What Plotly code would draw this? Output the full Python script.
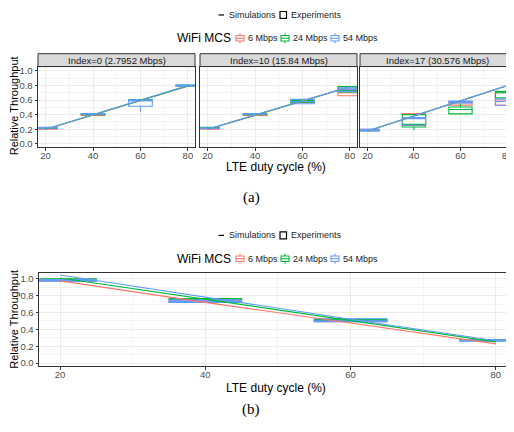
import plotly.graph_objects as go

# page body has an 8px default margin: draw in a 506x424 figure offset by 8px
OFF = 8
W, H = 506, 424
def X(px): return (px - OFF) / W
def Y(py): return 1 - (py - OFF) / H

duty = [20, 40, 60, 80]
mcs_names = ["6 Mbps", "24 Mbps", "54 Mbps"]
mcs_colors = ["#F8766D", "#00BA38", "#619CFF"]
facet_titles = ["Index=0 (2.7952 Mbps)", "Index=10 (15.84 Mbps)", "Index=17 (30.576 Mbps)"]

# (a) simulations, per facet, per MCS
sim_a = [
    [[0.195, 0.395, 0.595, 0.79], [0.198, 0.398, 0.598, 0.795], [0.20, 0.40, 0.60, 0.80]],
    [[0.195, 0.39, 0.585, 0.78], [0.198, 0.393, 0.588, 0.783], [0.20, 0.395, 0.59, 0.785]],
    [[0.172, 0.38, 0.585, 0.795], [0.174, 0.383, 0.588, 0.798], [0.175, 0.385, 0.59, 0.80]],
]
# (a) experiments box stats: [lowerfence, q1, median, q3, upperfence] per duty cycle
box_a = [
    [  # Index=0
        [[0.20, 0.20, 0.205, 0.21, 0.21], [0.39, 0.39, 0.395, 0.40, 0.40], [0.59, 0.59, 0.595, 0.60, 0.60], [0.79, 0.79, 0.795, 0.80, 0.80]],
        [[0.21, 0.21, 0.215, 0.22, 0.22], [0.40, 0.40, 0.405, 0.41, 0.41], [0.60, 0.60, 0.605, 0.607, 0.607], [0.795, 0.795, 0.80, 0.805, 0.805]],
        [[0.215, 0.215, 0.22, 0.225, 0.225], [0.405, 0.405, 0.41, 0.415, 0.415], [0.44, 0.515, 0.595, 0.605, 0.605], [0.795, 0.795, 0.80, 0.805, 0.805]],
    ],
    [  # Index=10
        [[0.20, 0.20, 0.205, 0.21, 0.21], [0.39, 0.39, 0.395, 0.40, 0.40], [0.57, 0.57, 0.58, 0.59, 0.59], [0.66, 0.66, 0.70, 0.75, 0.75]],
        [[0.215, 0.215, 0.22, 0.225, 0.225], [0.40, 0.40, 0.405, 0.41, 0.41], [0.57, 0.57, 0.585, 0.60, 0.60], [0.71, 0.71, 0.73, 0.785, 0.79]],
        [[0.21, 0.21, 0.215, 0.22, 0.22], [0.405, 0.405, 0.41, 0.415, 0.415], [0.55, 0.55, 0.58, 0.61, 0.61], [0.72, 0.72, 0.75, 0.77, 0.77]],
    ],
    [  # Index=17
        [[0.18, 0.18, 0.19, 0.20, 0.20], [0.25, 0.25, 0.35, 0.415, 0.415], [0.53, 0.53, 0.56, 0.58, 0.58], [0.48, 0.53, 0.60, 0.70, 0.72]],
        [[0.18, 0.18, 0.19, 0.195, 0.195], [0.19, 0.23, 0.266, 0.40, 0.40], [0.41, 0.41, 0.47, 0.505, 0.55], [0.63, 0.63, 0.70, 0.72, 0.73]],
        [[0.175, 0.175, 0.19, 0.20, 0.20], [0.25, 0.255, 0.345, 0.36, 0.37], [0.56, 0.56, 0.57, 0.585, 0.585], [0.52, 0.525, 0.58, 0.617, 0.617]],
    ],
]
# (b) simulations per MCS
sim_b = [[0.975, 0.72, 0.475, 0.228], [1.01, 0.757, 0.505, 0.252], [1.045, 0.78, 0.52, 0.265]]
# (b) experiments box stats
box_b = [
    [[0.97, 0.97, 0.98, 0.99, 0.99], [0.72, 0.72, 0.73, 0.74, 0.74], [0.49, 0.49, 0.50, 0.51, 0.51], [0.27, 0.27, 0.275, 0.28, 0.28]],
    [[0.995, 0.995, 1.0, 1.0, 1.0], [0.755, 0.755, 0.76, 0.765, 0.765], [0.51, 0.51, 0.515, 0.52, 0.52], [0.265, 0.265, 0.27, 0.275, 0.275]],
    [[0.97, 0.97, 0.98, 0.99, 0.99], [0.72, 0.72, 0.73, 0.75, 0.75], [0.49, 0.49, 0.50, 0.525, 0.525], [0.26, 0.26, 0.265, 0.275, 0.275]],
]
y_ticks = [0.0, 0.2, 0.4, 0.6, 0.8, 1.0]
y_tick_text = ["0.0", "0.2", "0.4", "0.6", "0.8", "1.0"]

FONT = "Liberation Sans, Arial, sans-serif"
TICKC = "#4D4D4D"
BORDER = "#333333"

fig = go.Figure()

def add_boxes(stats, ax):
    for k in range(3):
        s = stats[k]
        fig.add_trace(go.Box(
            x=duty, lowerfence=[v[0] for v in s], q1=[v[1] for v in s], median=[v[2] for v in s],
            q3=[v[3] for v in s], upperfence=[v[4] for v in s],
            width=10, whiskerwidth=0, boxpoints=False, fillcolor="rgba(255,255,255,0)",
            line=dict(color=mcs_colors[k], width=1.1), xaxis="x" + ax, yaxis="y" + ax,
            showlegend=False, hoverinfo="skip"))

def add_lines(sims, ax):
    for k in range(3):
        fig.add_trace(go.Scatter(x=duty, y=sims[k], mode="lines",
                                 line=dict(color=mcs_colors[k], width=1.1),
                                 xaxis="x" + ax, yaxis="y" + ax, showlegend=False, hoverinfo="skip"))

for i in range(3):
    ax = "" if i == 0 else str(i + 1)
    add_boxes(box_a[i], ax)
    add_lines(sim_a[i], ax)
add_boxes(box_b, "4")
add_lines(sim_b, "4")

def xax(domain, rng, anchor, mirror=True):
    return dict(domain=domain, range=rng, anchor=anchor, tickvals=duty, ticktext=[str(d) for d in duty],
                showgrid=True, gridcolor="#EBEBEB", gridwidth=1.1,
                minor=dict(tickvals=[30, 50, 70], showgrid=True, gridcolor="#F4F4F4", gridwidth=0.6, ticks=""),
                showline=True, linecolor=BORDER, linewidth=1, mirror=mirror,
                ticks="outside", ticklen=2.5, tickcolor=BORDER, tickwidth=1, ticklabelstandoff=-3,
                tickfont=dict(size=9.5, color=TICKC, family=FONT), zeroline=False, fixedrange=True)

def yax(domain, rng, anchor, labels=True, mirror=True):
    return dict(domain=domain, range=rng, anchor=anchor, tickvals=y_ticks, ticktext=y_tick_text,
                showticklabels=labels, showgrid=True, gridcolor="#EBEBEB", gridwidth=1.1,
                minor=dict(tickvals=[0.1, 0.3, 0.5, 0.7, 0.9], showgrid=True, gridcolor="#F4F4F4", gridwidth=0.6, ticks=""),
                showline=True, linecolor=BORDER, linewidth=1, mirror=mirror,
                ticks="outside" if labels else "", ticklen=2.5, tickcolor=BORDER, tickwidth=1,
                tickfont=dict(size=9.5, color=TICKC, family=FONT), zeroline=False, fixedrange=True)

top_y = [Y(147), Y(66)]
panels_x = [(38, 195), (200, 357), (360, 514)]
xr_top = [16.8, 83.0]
yr_top = [-0.045, 1.06]

fig.update_layout(
    xaxis=xax([X(38), X(195)], xr_top, "y"),
    yaxis=yax(top_y, yr_top, "x"),
    xaxis2=xax([X(200), X(357)], xr_top, "y2"),
    yaxis2=yax(top_y, yr_top, "x2", labels=False),
    xaxis3=xax([X(360), 1.0], xr_top, "y3"),
    yaxis3=yax(top_y, yr_top, "x3", labels=False, mirror=False),
    xaxis4=xax([X(39), 1.0], [17.1, 82.5], "y4"),
    yaxis4=yax([Y(368), Y(274)], [-0.04, 1.067], "x4", mirror=False),
)

shapes = []
annots = []

# facet strips
strip_centers = [116.5, 278.5, 437.5]
for i, (x0, x1) in enumerate(panels_x):
    shapes.append(dict(type="rect", xref="paper", yref="paper", x0=X(x0), x1=min(X(x1), 1.0), y0=Y(66), y1=Y(53),
                       fillcolor="#D9D9D9", line=dict(color=BORDER, width=1), layer="below"))
    annots.append(dict(text=facet_titles[i], xref="paper", yref="paper", x=X(strip_centers[i]),
                       y=Y(59.5), showarrow=False, xanchor="center", yanchor="middle",
                       font=dict(size=9.5, color="#1A1A1A", family=FONT)))

def legends(y1, y2):
    # line 1: Simulations / Experiments
    shapes.append(dict(type="line", xref="paper", yref="paper", x0=X(218.5), x1=X(224), y0=Y(y1), y1=Y(y1),
                       line=dict(color="#000000", width=1.2)))
    annots.append(dict(text="Simulations", xref="paper", yref="paper", x=X(226.5), y=Y(y1), showarrow=False,
                       xanchor="left", yanchor="middle", font=dict(size=9, color="#1A1A1A", family=FONT)))
    shapes.append(dict(type="rect", xref="paper", yref="paper", x0=X(280), x1=X(286.5), y0=Y(y1 + 3.5), y1=Y(y1 - 3.5),
                       line=dict(color="#000000", width=1.2), fillcolor="rgba(0,0,0,0)"))
    annots.append(dict(text="Experiments", xref="paper", yref="paper", x=X(288.5), y=Y(y1), showarrow=False,
                       xanchor="left", yanchor="middle", font=dict(size=9, color="#1A1A1A", family=FONT)))
    # line 2: WiFi MCS
    annots.append(dict(text="WiFi MCS", xref="paper", yref="paper", x=X(233), y=Y(y2), showarrow=False,
                       xanchor="right", yanchor="middle", font=dict(size=12, color="#000000", family=FONT)))
    keys_x = [236, 281, 331]
    for k in range(3):
        kx = keys_x[k]
        c = mcs_colors[k]
        shapes.append(dict(type="rect", xref="paper", yref="paper", x0=X(kx), x1=X(kx + 8), y0=Y(y2 + 2.8), y1=Y(y2 - 2.8),
                           line=dict(color=c, width=1.1), fillcolor="white"))
        shapes.append(dict(type="line", xref="paper", yref="paper", x0=X(kx), x1=X(kx + 8), y0=Y(y2), y1=Y(y2),
                           line=dict(color=c, width=1.1)))
        shapes.append(dict(type="line", xref="paper", yref="paper", x0=X(kx + 4), x1=X(kx + 4), y0=Y(y2 - 2.8), y1=Y(y2 - 5),
                           line=dict(color=c, width=1.1)))
        shapes.append(dict(type="line", xref="paper", yref="paper", x0=X(kx + 4), x1=X(kx + 4), y0=Y(y2 + 2.8), y1=Y(y2 + 5),
                           line=dict(color=c, width=1.1)))
        annots.append(dict(text=mcs_names[k], xref="paper", yref="paper", x=X(kx + 10), y=Y(y2), showarrow=False,
                           xanchor="left", yanchor="middle", font=dict(size=9, color="#1A1A1A", family=FONT)))

legends(14, 37.5)
legends(236, 259.5)

# axis titles
annots.append(dict(text="Relative Throughput", xref="paper", yref="paper", x=X(14), y=Y(106), showarrow=False,
                   textangle=-90, xanchor="center", yanchor="middle", font=dict(size=11, color="#000000", family=FONT)))
annots.append(dict(text="Relative Throughput", xref="paper", yref="paper", x=X(14), y=Y(321), showarrow=False,
                   textangle=-90, xanchor="center", yanchor="middle", font=dict(size=11, color="#000000", family=FONT)))
annots.append(dict(text="LTE duty cycle (%)", xref="paper", yref="paper", x=X(276), y=Y(167), showarrow=False,
                   xanchor="center", yanchor="middle", font=dict(size=12, color="#000000", family=FONT)))
annots.append(dict(text="LTE duty cycle (%)", xref="paper", yref="paper", x=X(276), y=Y(390), showarrow=False,
                   xanchor="center", yanchor="middle", font=dict(size=12, color="#000000", family=FONT)))
# captions
annots.append(dict(text="(a)", xref="paper", yref="paper", x=X(251), y=Y(198), showarrow=False,
                   xanchor="center", yanchor="middle", font=dict(size=15, color="#000000", family="Liberation Serif, Times New Roman, serif")))
annots.append(dict(text="(b)", xref="paper", yref="paper", x=X(251), y=Y(411), showarrow=False,
                   xanchor="center", yanchor="middle", font=dict(size=15, color="#000000", family="Liberation Serif, Times New Roman, serif")))

fig.update_layout(
    width=W, height=H, margin=dict(l=0, r=0, t=0, b=0),
    paper_bgcolor="white", plot_bgcolor="white",
    boxmode="overlay", showlegend=False,
    shapes=shapes, annotations=annots,
    font=dict(family=FONT),
)

fig.write_html("out.html")
